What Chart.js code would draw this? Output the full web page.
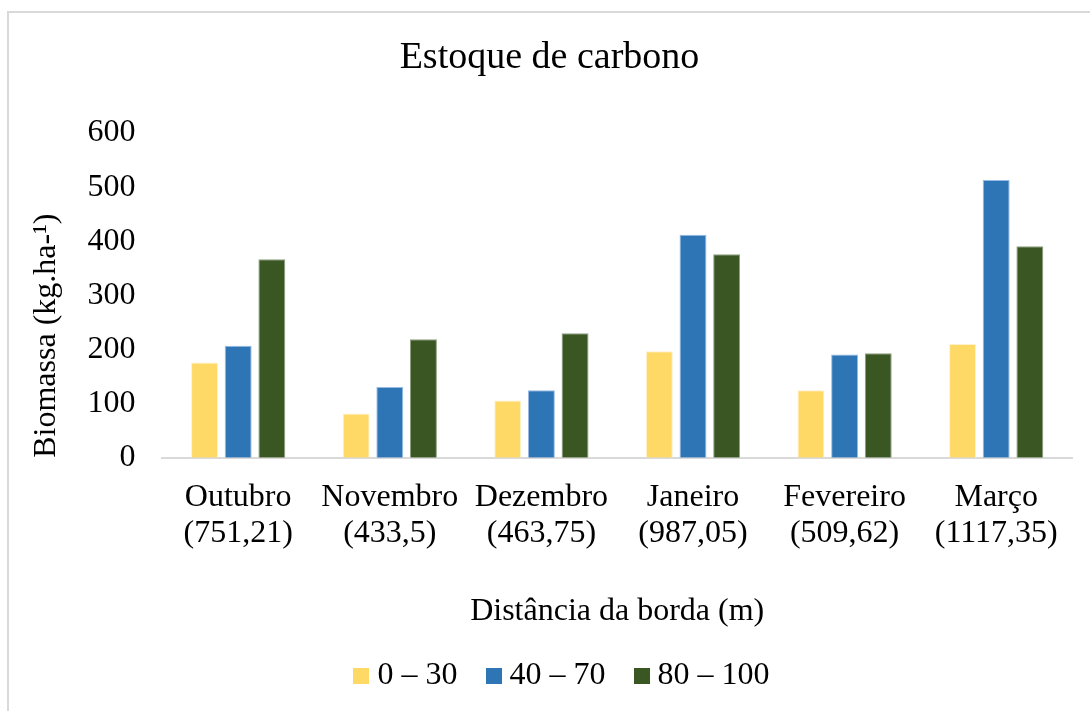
<!DOCTYPE html>
<html>
<head>
<meta charset="utf-8">
<script src="https://cdn.jsdelivr.net/npm/chart.js@4.4.1/dist/chart.umd.min.js"></script>
<style>
  html, body { margin: 0; padding: 0; background: #fff; overflow: hidden; }
  #wrap { width: 1090px; height: 711px; position: relative; }
</style>
</head>
<body>
<div id="wrap"><canvas id="c" width="1090" height="711"></canvas></div>
<script>
const months = ["Outubro", "Novembro", "Dezembro", "Janeiro", "Fevereiro", "Março"];
const monthTotals = ["(751,21)", "(433,5)", "(463,75)", "(987,05)", "(509,62)", "(1117,35)"];
const seriesNames = ["0 – 30", "40 – 70", "80 – 100"];
const dist0_30 = [176, 82, 106, 197, 125, 210];
const dist40_70 = [207, 131, 125, 412, 191, 513];
const dist80_100 = [367, 219, 230, 376, 193, 391];
const yTicks = [0, 100, 200, 300, 400, 500, 600];

const FONT = "'Liberation Serif', 'Times New Roman', serif";
const COLORS = ['#FFD966', '#2E75B6', '#3A5723'];
const EDGES = ['rgba(255,240,200,0.9)', 'rgba(140,180,225,0.9)', 'rgba(130,150,115,0.9)'];
const labels = months.map((m, i) => [m, monthTotals[i]]);

function swatch(color) {
  const c = document.createElement('canvas');
  c.width = 16; c.height = 16;
  const x = c.getContext('2d');
  x.fillStyle = color;
  x.fillRect(0, 0, 16, 16);
  return c;
}
const swatches = COLORS.map(swatch);

const frame = {
  id: 'frame',
  beforeDraw(chart) {
    const ctx = chart.ctx;
    ctx.save();
    ctx.strokeStyle = '#d9d9d9';
    ctx.lineWidth = 2;
    ctx.beginPath();
    ctx.moveTo(8, 711);
    ctx.lineTo(8, 12);
    ctx.lineTo(1090, 12);
    ctx.stroke();
    ctx.restore();
  }
};

const legendShift = {
  id: 'legendShift',
  afterLayout(chart) {
    if (chart.legend) { chart.legend.left += 16; chart.legend.right += 16; }
  }
};

new Chart(document.getElementById('c'), {
  type: 'bar',
  data: {
    labels: labels,
    datasets: [
      { label: seriesNames[0], data: dist0_30, backgroundColor: COLORS[0], borderColor: EDGES[0], borderWidth: 1 },
      { label: seriesNames[1], data: dist40_70, backgroundColor: COLORS[1], borderColor: EDGES[1], borderWidth: 1 },
      { label: seriesNames[2], data: dist80_100, backgroundColor: COLORS[2], borderColor: EDGES[2], borderWidth: 1 }
    ]
  },
  options: {
    responsive: false,
    animation: false,
    devicePixelRatio: 1,
    categoryPercentage: 0.666,
    barPercentage: 0.8,
    layout: { padding: { top: 20, left: 27, right: 18, bottom: 9 } },
    plugins: {
      title: {
        display: true,
        text: 'Estoque de carbono',
        color: '#000',
        font: { family: FONT, size: 38, weight: 'normal' },
        padding: { top: 15, bottom: 52.4 }
      },
      legend: {
        position: 'bottom',
        labels: {
          color: '#000',
          font: { family: FONT, size: 32 },
          usePointStyle: true,
          boxWidth: 0.01,
          boxHeight: 16,
          padding: 36,
          generateLabels(chart) {
            const items = Chart.defaults.plugins.legend.labels.generateLabels(chart);
            items.forEach((it, i) => { it.pointStyle = swatches[i]; });
            return items;
          }
        }
      },
      tooltip: { enabled: false }
    },
    scales: {
      x: {
        grid: { display: false, drawTicks: false },
        border: { display: true, color: '#d9d9d9', width: 2 },
        ticks: {
          color: '#000',
          font: { family: FONT, size: 32, lineHeight: 1.125 },
          padding: 22,
          maxRotation: 0,
          autoSkip: false
        },
        title: {
          display: true,
          text: 'Distância da borda (m)',
          color: '#000',
          font: { family: FONT, size: 32 },
          padding: { top: 19, bottom: -7.2 }
        }
      },
      y: {
        min: yTicks[0],
        max: yTicks[yTicks.length - 1],
        grid: { display: false, drawTicks: false },
        border: { display: false },
        afterBuildTicks(scale) { scale.ticks = yTicks.map(v => ({ value: v })); },
        ticks: {
          color: '#000',
          font: { family: FONT, size: 32 },
          padding: 27
        },
        title: {
          display: true,
          align: 'start',
          text: 'Biomassa (kg.ha-¹)',
          color: '#000',
          font: { family: FONT, size: 32 },
          padding: { top: 0, bottom: -5 }
        }
      }
    }
  },
  plugins: [frame, legendShift]
});
</script>
</body>
</html>
